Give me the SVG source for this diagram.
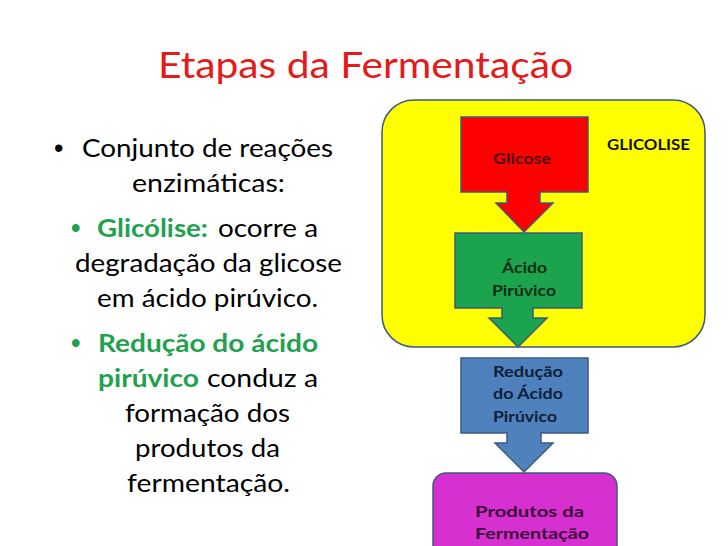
<svg xmlns="http://www.w3.org/2000/svg" width="728" height="546" viewBox="0 0 728 546">
<style>
.body{font-family:Lato,"Open Sans","Liberation Sans",sans-serif;font-size:25px;fill:#000}
.g{fill:#21a150;font-weight:bold}
.bul{font-family:"Liberation Sans",sans-serif;font-size:27px}
.title{font-family:Lato,"Open Sans","Liberation Sans",sans-serif;font-size:37px;fill:#e31b1b}
.lbl{font-family:Lato,"Open Sans","Liberation Sans",sans-serif;font-size:16px;font-weight:bold}
.shape{stroke:#3d5a80;stroke-width:1.5}
</style>
<rect width="728" height="546" fill="#fff"/>
<text class="title" x="158" y="78" textLength="415" lengthAdjust="spacingAndGlyphs">Etapas da Fermentação</text>
<g id="left-text">
<text class="bul" x="54" y="157">•</text>
<text class="body" x="82" y="157" textLength="251" lengthAdjust="spacingAndGlyphs">Conjunto de reações</text>
<text class="body" x="132" y="192" textLength="153" lengthAdjust="spacingAndGlyphs">enzimáticas:</text>
<text class="bul g" x="71" y="237">•</text>
<text class="body g" x="97" y="237" textLength="111" lengthAdjust="spacingAndGlyphs">Glicólise:</text>
<text class="body" x="218" y="237" textLength="100" lengthAdjust="spacingAndGlyphs">ocorre a</text>
<text class="body" x="75" y="272" textLength="267" lengthAdjust="spacingAndGlyphs">degradação da glicose</text>
<text class="body" x="97" y="307" textLength="221" lengthAdjust="spacingAndGlyphs">em ácido pirúvico.</text>
<text class="bul g" x="71" y="352">•</text>
<text class="body g" x="98" y="352" textLength="220" lengthAdjust="spacingAndGlyphs">Redução do ácido</text>
<text class="body g" x="98" y="387" textLength="101" lengthAdjust="spacingAndGlyphs">pirúvico</text>
<text class="body" x="207" y="387" textLength="111" lengthAdjust="spacingAndGlyphs">conduz a</text>
<text class="body" x="125" y="422" textLength="165" lengthAdjust="spacingAndGlyphs">formação dos</text>
<text class="body" x="135" y="457" textLength="145" lengthAdjust="spacingAndGlyphs">produtos da</text>
<text class="body" x="127" y="492" textLength="163" lengthAdjust="spacingAndGlyphs">fermentação.</text>
</g>
<g id="glicolise-area">
<rect class="shape" x="382" y="100" width="323" height="247" rx="32" fill="#ffff00"/>
<text class="lbl" x="607" y="150" fill="#111" textLength="83" lengthAdjust="spacingAndGlyphs">GLICOLISE</text>
</g>
<g id="glicose">
<rect class="shape" x="461" y="117" width="127" height="75" fill="#ff0000"/>
<text class="lbl" x="493" y="164" fill="#4a0d0d" textLength="58" lengthAdjust="spacingAndGlyphs">Glicose</text>
</g>
<g id="acido-piruvico">
<rect class="shape" x="455" y="233" width="127" height="75" fill="#1ba34e"/>
<text class="lbl" x="502" y="273" fill="#0d2e16" textLength="45" lengthAdjust="spacingAndGlyphs">Ácido</text>
<text class="lbl" x="492" y="296" fill="#0d2e16" textLength="64" lengthAdjust="spacingAndGlyphs">Pirúvico</text>
</g>
<g id="reducao">
<rect class="shape" x="461" y="358" width="127" height="75" fill="#4f81bd"/>
<text class="lbl" x="493" y="377" fill="#0f1f3a" textLength="70" lengthAdjust="spacingAndGlyphs">Redução</text>
<text class="lbl" x="493" y="399" fill="#0f1f3a" textLength="70" lengthAdjust="spacingAndGlyphs">do Ácido</text>
<text class="lbl" x="493" y="422" fill="#0f1f3a" textLength="64" lengthAdjust="spacingAndGlyphs">Pirúvico</text>
</g>
<g id="produtos">
<rect class="shape" x="433" y="473" width="184" height="90" rx="13" fill="#d631d0"/>
<text class="lbl" x="475" y="517" fill="#3d0a3a" textLength="109" lengthAdjust="spacingAndGlyphs">Produtos da</text>
<text class="lbl" x="475" y="539" fill="#3d0a3a" textLength="114" lengthAdjust="spacingAndGlyphs">Fermentação</text>
</g>
<g id="connectors">
<path class="shape" d="M507 191 V203 H496 L524 232 L553 203 H540 V191" fill="#ff0000"/>
<path class="shape" d="M502 307 V318 H489 L518 347 L547 318 H533 V307" fill="#1ba34e"/>
<path class="shape" d="M507 432 V443 H495 L524 472 L553 443 H541 V432" fill="#4f81bd"/>
</g>
</svg>
